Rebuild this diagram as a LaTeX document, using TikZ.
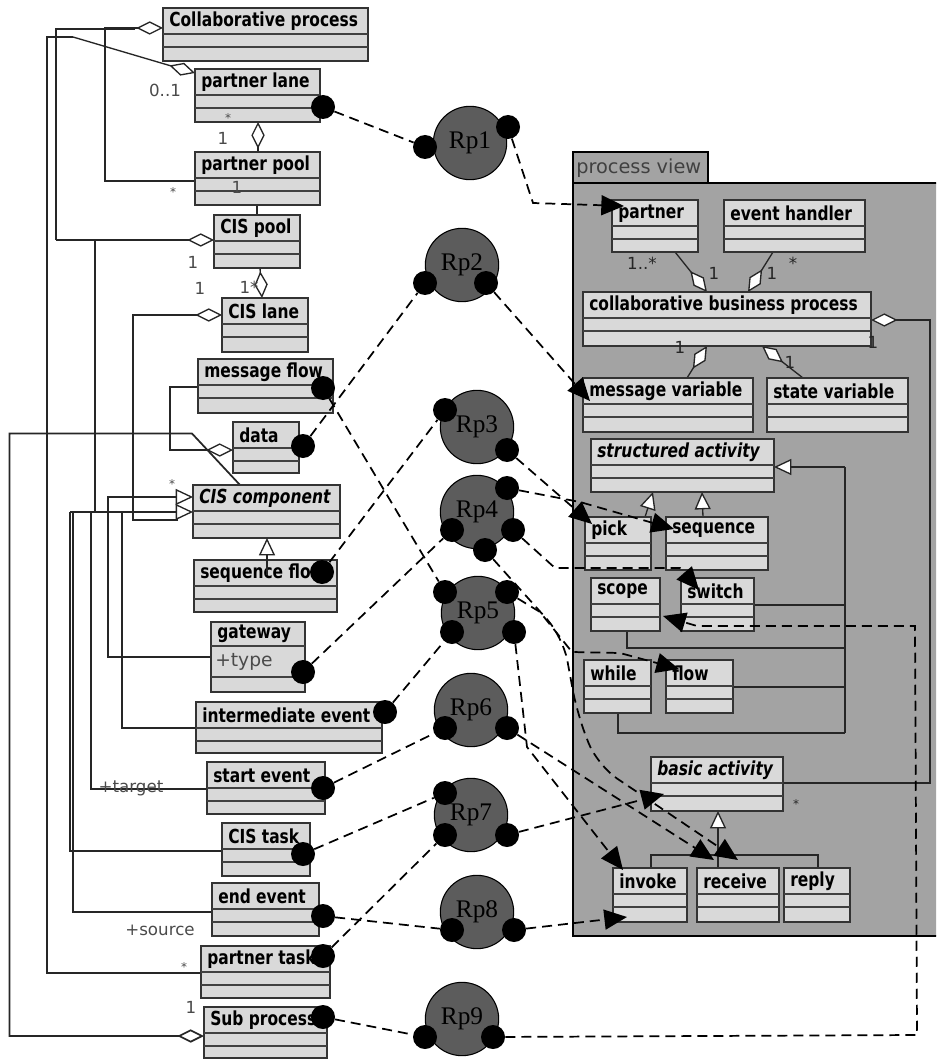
\documentclass[tikz,border=0pt]{standalone}
\usepackage{fontspec}
\setmainfont{DejaVu Sans}
\newfontfamily\clsfont[FakeStretch=0.8]{DejaVu Sans}
\newfontfamily\rpfont{Liberation Serif}
\usetikzlibrary{arrows.meta}
\definecolor{clsgray}{HTML}{D9D9D9}
\definecolor{pkggray}{HTML}{A3A3A3}
\definecolor{rpgray}{HTML}{5C5C5C}
\definecolor{lblgray}{HTML}{4A4A4A}
\newcommand\umlbox[7][]{%
  \draw[cls] (#3,#4) rectangle (#5,#6);
  \draw[comp] (#3,#4+26) -- (#5,#4+26) (#3,#4+39) -- (#5,#4+39);
  \node[ttl,#1] (#2) at (#3+6,#4+13.5) {#7};
}
\begin{document}
\begin{tikzpicture}[x=0.75pt,y=-0.75pt,
  cls/.style={draw=black!80, fill=clsgray, line width=1.1pt},
  comp/.style={draw=black!75, line width=0.9pt},
  ttl/.style={anchor=west, inner sep=0pt, font=\clsfont\bfseries\fontsize{14.5}{16}\selectfont},
  itl/.style={font=\clsfont\bfseries\itshape\fontsize{14.5}{16}\selectfont},
  dotn/.style={circle, fill=black, minimum size=18pt, inner sep=0pt},
  rpn/.style={circle, draw=black, line width=0.8pt, fill=rpgray, minimum size=55pt, inner sep=0pt, font=\rpfont\fontsize{19}{21}\selectfont},
  dsh/.style={draw=black, dash pattern=on 7.5pt off 4.5pt, line width=1.3pt},
  arr/.style={-{Triangle[length=17pt,width=15pt]}},
  sol/.style={draw=black!85, line width=1pt},
  agg/.style={-{Diamond[fill=white,length=20pt,width=10pt]}},
  gen/.style={-{Triangle[fill=white,length=13pt,width=12pt]}},
  lbl/.style={font=\fontsize{12.5}{14}\selectfont, text=lblgray, inner sep=0pt},
  sml/.style={font=\fontsize{9}{10}\selectfont},
]
\clip (0,0) rectangle (936,1059);
\fill[white] (0,0) rectangle (936,1059);

% ---------- package ----------
\draw[fill=pkggray, line width=1.6pt] (573,183) rectangle (950,936);
\draw[fill=pkggray, line width=1.6pt] (573,152) rectangle (708,183);
\node[anchor=west, inner sep=0pt, font=\fontsize{14.5}{16}\selectfont, text=black!75] (pv) at (576,168) {process view};

% inner connectors
\draw[sol,agg] (675,252) -- (707,292);
\draw[sol,agg] (773,252) -- (748,292);
\draw[sol,agg] (687,378) -- (707,346);
\draw[sol,agg] (803,378) -- (762,346);
\draw[sol,agg] (783,783) -- (930,783) -- (930,320) -- (871,320);
\draw[sol,gen] (845,467) -- (774,467);
\draw[sol] (845,467) -- (845,733);
\draw[sol] (754,605) -- (845,605);
\draw[sol] (627,631) -- (627,648) -- (845,648);
\draw[sol] (733,687) -- (845,687);
\draw[sol] (618,713) -- (618,733) -- (845,733);
\draw[sol,gen] (645,517) -- (653,492);
\draw[sol,gen] (703,517) -- (702,492);
\draw[sol,gen] (718,868) -- (718,811);
\draw[sol] (651,868) -- (651,855) -- (818,855) -- (818,868);

\umlbox{partner}{612}{200}{698}{252}{partner}
\umlbox{evh}{724}{200}{865}{252}{event handler}
\umlbox{cbp}{583}{292}{871}{346}{collaborative business process}
\umlbox{mvar}{583}{378}{753}{432}{message variable}
\umlbox{svar}{767}{378}{908}{432}{state variable}
\umlbox[itl]{sact}{591}{439}{774}{492}{structured activity}
\umlbox{pick}{585}{517}{651}{570}{pick}
\umlbox{seq}{666}{517}{768}{570}{sequence}
\umlbox{scope}{591}{578}{660}{631}{scope}
\umlbox{switch}{681}{578}{754}{631}{switch}
\umlbox{while}{584}{660}{651}{713}{while}
\umlbox{flow}{666}{660}{733}{713}{flow}
\umlbox[itl]{bact}{651}{757}{783}{811}{basic activity}
\umlbox{invoke}{613}{868}{687}{922}{invoke}
\umlbox{receive}{697}{868}{779}{922}{receive}
\umlbox{reply}{784}{868}{850}{922}{reply}

\node[lbl,text=black!85] (q1) at (642,263) {1..*};
\node[lbl,text=black!85] (q2) at (714,273) {1};
\node[lbl,text=black!85] (q3) at (772,273) {1};
\node[lbl,text=black!85] (q4) at (793,263) {*};
\node[lbl,text=black!85] (q5) at (680,347) {1};
\node[lbl,text=black!85] (q6) at (790,362) {1};
\node[lbl,text=black!85] (q7) at (873,342) {1};
\node[lbl,sml,text=black!85] (q8) at (796,804) {*};

% ---------- left connectors ----------
\draw[sol,agg] (195,181) -- (105,181) -- (105,28) -- (163,28);
\draw[sol] (135,29) -- (56,29) -- (56,240);
\draw[sol,agg] (56,240) -- (214,240);
\draw[sol] (95,240) -- (95,512);
\draw[sol] (201,973) -- (47,973) -- (47,37) -- (73,37);
\draw[sol,agg] (73,37) -- (195,73);
\draw[sol,agg] (258,152) -- (258,122);
\draw[sol] (257,205) -- (257,215);
\draw[sol,agg] (260,268) -- (262,298);
\draw[sol,agg] (178,520) -- (133,520) -- (133,315) -- (222,315);
\draw[sol,agg] (198,387) -- (170,387) -- (170,450) -- (233,450);
\draw[sol,agg,line width=1.3pt] (240,485) -- (192,433.5) -- (9.5,433.5) -- (9.5,1036) -- (204,1036);
\draw[sol,gen] (211,657) -- (108,657) -- (108,497) -- (193,497);
\draw[sol] (222,851) -- (70,851) -- (70,512);
\draw[sol] (212,912) -- (73,912) -- (73,512);
\draw[sol] (207,789) -- (91,789) -- (91,512);
\draw[sol] (196,728) -- (122,728) -- (122,512);
\draw[sol,gen] (70,512) -- (193,512);

% ---------- left classes ----------
\umlbox{cp}{163}{8}{368}{61}{Collaborative process}
\umlbox{plane}{195}{69}{320}{122}{partner lane}
\umlbox{ppool}{195}{152}{320}{205}{partner pool}
\umlbox{cpool}{214}{215}{300}{268}{CIS pool}
\umlbox{clane}{222}{298}{308}{352}{CIS lane}
\umlbox{mflow}{198}{359}{333}{413}{message flow}
\umlbox{data}{233}{422}{299}{473}{data}
\umlbox[itl]{ccomp}{193}{485}{340}{538}{CIS component}
\umlbox{sflow}{194}{560}{337}{612}{sequence flow}
\draw[cls] (211,622) rectangle (305,692);
\draw[comp] (211,646) -- (305,646) (211,677) -- (305,677);
\node[ttl] (gw) at (217,634) {gateway};
\node[lbl, anchor=west, font=\fontsize{14}{16}\selectfont] (gwt) at (215,662) {+type};
\umlbox{iev}{196}{702}{382}{753}{intermediate event}
\umlbox{sev}{207}{762}{325}{814}{start event}
\umlbox{ctask}{222}{823}{310}{876}{CIS task}
\umlbox{eev}{212}{883}{319}{936}{end event}
\umlbox{ptask}{201}{946}{330}{998}{partner task}
\umlbox{subp}{204}{1007}{327}{1058}{Sub process}
\draw[sol,gen] (267,575) -- (267,538);

\node[lbl] (l1) at (165,90) {0..1};
\node[lbl,sml] (l2) at (228,118) {*};
\node[lbl] (l3) at (223,138) {1};
\node[lbl,sml] (l4) at (173,192) {*};
\node[lbl] (l5) at (237,187) {1};
\node[lbl] (l6) at (193,262) {1};
\node[lbl] (l7) at (200,288) {1};
\node[lbl] (l8) at (249,287) {1*};
\node[lbl,sml] (l9) at (172,484) {*};
\node[lbl] (l10) at (131,788) {+target};
\node[lbl] (l11) at (160,930) {+source};
\node[lbl,sml] (l12) at (184,967) {*};
\node[lbl] (l13) at (191,1007) {1};

% ---------- Rp circles ----------
\node[rpn] (rp1) at (470,143) {Rp1};
\node[rpn] (rp2) at (462,265) {Rp2};
\node[rpn] (rp3) at (477,427) {Rp3};
\node[rpn] (rp4) at (477,512) {Rp4};
\node[rpn] (rp5) at (478,613) {Rp5};
\node[rpn] (rp6) at (471,710) {Rp6};
\node[rpn] (rp7) at (471,815) {Rp7};
\node[rpn] (rp8) at (477,912) {Rp8};
\node[rpn] (rp9) at (462,1019) {Rp9};

% arrow targets
\coordinate (tpartner) at (624,206);
\coordinate (tmvar) at (590,401);
\coordinate (tpick) at (592,524);
\coordinate (tseq) at (674,529);
\coordinate (tswitch) at (699,590);
\coordinate (treca) at (714,860);
\coordinate (trecb) at (738,860);
\coordinate (tflow) at (679,669);
\coordinate (tinva) at (623,870);
\coordinate (tinvb) at (627,917);
\coordinate (tbact) at (664,794);
\coordinate (tscope) at (663,616);

% dots
\node[dotn] (dA) at (323,107) {};
\node[dotn] (dB) at (323,388) {};
\node[dotn] (dC) at (303,446) {};
\node[dotn] (dD) at (322,572) {};
\node[dotn] (dE) at (303,672) {};
\node[dotn] (dF) at (385,712) {};
\node[dotn] (dG) at (323,788) {};
\node[dotn] (dH) at (303,854) {};
\node[dotn] (dI) at (323,916) {};
\node[dotn] (dJ) at (323,956) {};
\node[dotn] (dK) at (323,1017) {};
\node[dotn] (r1a) at (425,147) {};
\node[dotn] (r1b) at (508,127) {};
\node[dotn] (r2a) at (425,283) {};
\node[dotn] (r2b) at (486,283) {};
\node[dotn] (r3a) at (445,410) {};
\node[dotn] (r3b) at (507,450) {};
\node[dotn] (r4a) at (507,488) {};
\node[dotn] (r4b) at (452,530) {};
\node[dotn] (r4c) at (513,530) {};
\node[dotn] (r4d) at (485,550) {};
\node[dotn] (r5a) at (445,592) {};
\node[dotn] (r5b) at (507,592) {};
\node[dotn] (r5c) at (452,632) {};
\node[dotn] (r5d) at (514,632) {};
\node[dotn] (r6a) at (445,728) {};
\node[dotn] (r6b) at (507,728) {};
\node[dotn] (r7a) at (445,793) {};
\node[dotn] (r7b) at (445,835) {};
\node[dotn] (r7c) at (507,835) {};
\node[dotn] (r8a) at (452,930) {};
\node[dotn] (r8b) at (514,930) {};
\node[dotn] (r9a) at (425,1037) {};
\node[dotn] (r9b) at (493,1037) {};

% ---------- dashed connectors ----------
\draw[dsh] (dA) -- (r1a);
\draw[dsh,arr] (r1b) -- (533,203) -- (tpartner);
\draw[dsh] (dC) -- (r2a);
\draw[dsh,arr] (r2b) -- (tmvar);
\draw[dsh] (dD) -- (r3a);
\draw[dsh,arr] (r3b) -- (tpick);
\draw[dsh,arr] (r4a) -- (580,502) -- (tseq);
\draw[dsh,arr] (r4c) -- (555,568) -- (680,568) -- (tswitch);
\draw[dsh] (dE) -- (r4b);
\draw[dsh] (dB) -- (r5a);
\draw[dsh,arr,rounded corners=18pt] (r4d) -- (527,597) -- (563,637) -- (577,713) -- (597,765) -- (trecb);
\draw[dsh,arr] (r5b) -- (540,612) -- (572,652) -- (620,653) -- (tflow);
\draw[dsh,arr] (r5d) -- (527,747) -- (tinva);
\draw[dsh] (dF) -- (r5c);
\draw[dsh] (dG) -- (r6a);
\draw[dsh,arr] (r6b) -- (treca);
\draw[dsh] (dH) -- (r7a);
\draw[dsh,arr] (r7c) -- (tbact);
\draw[dsh] (dJ) -- (r7b);
\draw[dsh] (dI) -- (r8a);
\draw[dsh,arr] (r8b) -- (tinvb);
\draw[dsh] (dK) -- (r9a);
\draw[dsh,arr] (r9b) -- (917,1035) -- (915,626) -- (697,626) -- (tscope);
\end{tikzpicture}
\end{document}
